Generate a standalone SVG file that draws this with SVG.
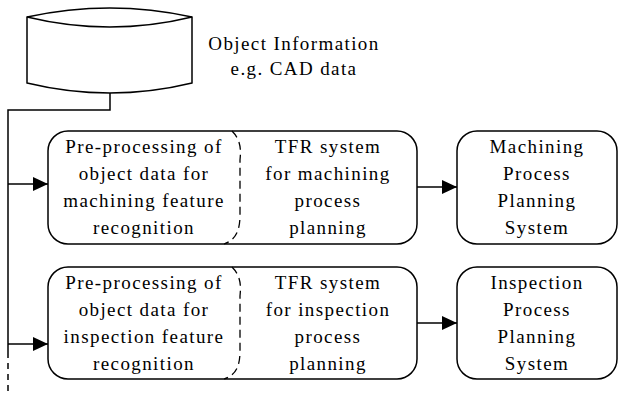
<svg xmlns="http://www.w3.org/2000/svg" width="619" height="395" viewBox="0 0 619 395">
<style>
.s{fill:none;stroke:#000;stroke-width:1.5}
.b{fill:#fff;stroke:#000;stroke-width:1.5}
.d{fill:none;stroke:#000;stroke-width:1.3;stroke-dasharray:8 5}
text{font-family:"Liberation Serif","Times New Roman",serif;font-size:19px;letter-spacing:1.4px;text-anchor:middle;fill:#000}
</style>
<defs>
<marker id="ah" markerUnits="userSpaceOnUse" markerWidth="15" markerHeight="14" refX="15" refY="7" orient="auto">
<path d="M0,0 L15,7 L0,14 z" fill="#000"/>
</marker>
</defs>
<rect width="619" height="395" fill="#fff"/>
<g id="connectors">
<path class="s" d="M110,93 L110,110 L8,110 L8,352"/>
<path class="s" d="M8,352 L8,395" stroke-dasharray="6 5"/>
<path class="s" d="M8,184 L48,184" marker-end="url(#ah)"/>
<path class="s" d="M8,344 L48,344" marker-end="url(#ah)"/>
<path class="s" d="M417,187 L457,187" marker-end="url(#ah)"/>
<path class="s" d="M417,323 L457,323" marker-end="url(#ah)"/>
</g>
<g id="object-info">
<path class="b" d="M27,17 Q110,-1 192,17 L192,83 Q110,103 27,83 Z"/>
<path class="s" d="M27,17 Q110,37 192,17"/>
<text x="294" y="50">Object Information</text>
<text x="294" y="75">e.g. CAD data</text>
</g>
<g id="machining-tfr">
<rect class="b" x="48" y="131" width="369" height="113" rx="20"/>
<path class="d" d="M232,131 C241,140 241,150 240,160 L240,215 C240,230 236,240 224,244"/>
<text x="144" y="153">Pre-processing of</text>
<text x="144" y="180">object data for</text>
<text x="144" y="207">machining feature</text>
<text x="144" y="234">recognition</text>
<text x="328" y="153">TFR system</text>
<text x="328" y="180">for machining</text>
<text x="328" y="207">process</text>
<text x="328" y="234">planning</text>
</g>
<g id="machining-pps">
<rect class="b" x="457" y="131" width="160" height="113" rx="20"/>
<text x="537" y="153">Machining</text>
<text x="537" y="180">Process</text>
<text x="537" y="207">Planning</text>
<text x="537" y="234">System</text>
</g>
<g id="inspection-tfr">
<rect class="b" x="48" y="267" width="369" height="112" rx="20"/>
<path class="d" d="M232,267 C241,276 241,286 240,296 L240,351 C240,366 236,375 224,379"/>
<text x="144" y="289">Pre-processing of</text>
<text x="144" y="316">object data for</text>
<text x="144" y="343">inspection feature</text>
<text x="144" y="370">recognition</text>
<text x="328" y="289">TFR system</text>
<text x="328" y="316">for inspection</text>
<text x="328" y="343">process</text>
<text x="328" y="370">planning</text>
</g>
<g id="inspection-pps">
<rect class="b" x="457" y="267" width="160" height="112" rx="20"/>
<text x="537" y="289">Inspection</text>
<text x="537" y="316">Process</text>
<text x="537" y="343">Planning</text>
<text x="537" y="370">System</text>
</g>
</svg>
